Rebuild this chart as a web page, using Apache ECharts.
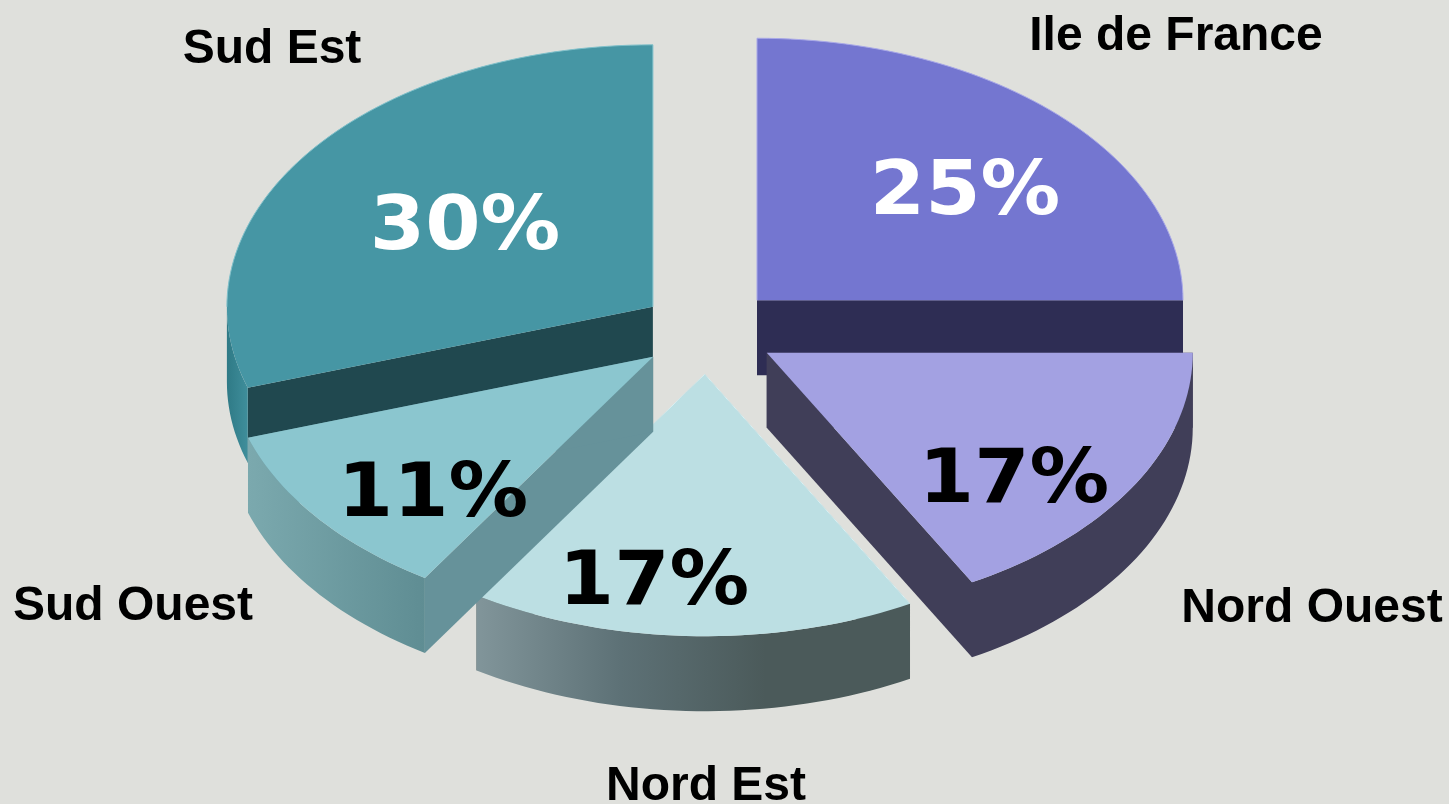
<!DOCTYPE html>
<html>
<head>
<meta charset="utf-8">
<style>
  html, body { margin: 0; padding: 0; background: #dfe0dc; }
  #chart { width: 1449px; height: 804px; }
</style>
<script src="https://cdn.jsdelivr.net/npm/echarts@6/dist/echarts.min.js"></script>
</head>
<body>
<div id="chart"></div>
<script>
// clockwise from 12 o'clock
const regions = ['Ile de France', 'Nord Ouest', 'Nord Est', 'Sud Ouest', 'Sud Est'];
const shares = [25, 17, 17, 11, 30];

// styling, one entry per region
const explode = [0.166, 0.163, 0.165, 0.16, 0.157];
const drawOrder = [0, 3, 2, 4, 1]; // back slices first, z2 step
const topColors = ['#7476d0', '#a3a1e2', '#bcdfe3', '#8bc6cf', '#4696a4'];
const edgeColors = ['#a9a9e8', '#aeaceb', '#d8f0f3', '#97cfd7', '#7fc0ca'];
const litCuts = [[1, 0], [0, 0], [1, 1], [0, 0], [0, 1]]; // cut edges with a light line
const cutColors = ['#2e2d54', '#403e58', '#4b5a5a', '#66929a', '#20484f'];
const rimColors = [
  ['#2e2d54', '#2e2d54'],
  ['#403e58', '#403e58'],
  ['#81959a', '#5d7176', '#4b5a5a', '#4b5a5a'],
  ['#7ba9ae', '#5f8d93'],
  ['#2f7a86', '#3f8e9b']
];
const pctColors = ['#fff', '#000', '#000', '#000', '#fff'];
const pctPos = [[965, 188], [1014, 476], [654, 578], [433, 490], [465, 223]];
const namePos = [[1176, 37], [1312, 609], [706, 787], [133, 607], [272, 50]];

const cx = 707, cy = 331, rx = 426, ry = 262, depth = 75;
const total = shares.reduce((a, b) => a + b, 0);

function rad(d) { return d * Math.PI / 180; }

function renderSlice(params, api) {
  let i = params.dataIndex;
  let before = 0;
  for (let k = 0; k < i; k++) before += shares[k];
  let a0 = -90 + before / total * 360;
  let a1 = a0 + api.value(1) / total * 360;
  let mid = rad((a0 + a1) / 2);
  let ax = cx + Math.cos(mid) * explode[i] * rx;
  let ay = cy + Math.sin(mid) * explode[i] * ry;
  let pt = function(a, dy) {
    return [ax + rx * Math.cos(rad(a)), ay + ry * Math.sin(rad(a)) + (dy || 0)];
  };
  let arc = function(from, to, dy) {
    let out = [];
    let n = Math.max(2, Math.ceil((to - from) / 1.5));
    for (let k = 0; k <= n; k++) out.push(pt(from + (to - from) * k / n, dy));
    return out;
  };
  let base = (drawOrder[i] + 1) * 10;
  let kids = [];
  let edgeLine = function(points) {
    kids.push({
      type: 'polyline',
      z2: base + 3,
      shape: { points: points },
      style: { fill: null, stroke: edgeColors[i], lineWidth: 1 }
    });
  };

  // the two cut faces
  [a0, a1].forEach(function(a) {
    kids.push({
      type: 'polygon',
      z2: base,
      shape: { points: [[ax, ay], pt(a), pt(a, depth), [ax, ay + depth]] },
      style: { fill: cutColors[i] }
    });
  });

  // outer wall, only the part that faces us
  let from = Math.max(a0, 0), to = Math.min(a1, 180);
  if (to > from) {
    let stops = rimColors[i].map(function(c, k, all) {
      return { offset: k / (all.length - 1), color: c };
    });
    kids.push({
      type: 'polygon',
      z2: base + 1,
      shape: { points: arc(from, to, 0).concat(arc(from, to, depth).reverse()) },
      style: { fill: new echarts.graphic.LinearGradient(0, 0, 1, 0, stops) }
    });
  }

  // top
  kids.push({
    type: 'polygon',
    z2: base + 2,
    shape: { points: [[ax, ay]].concat(arc(a0, a1, 0)) },
    style: { fill: topColors[i] }
  });

  // light fringe: far arc and a few cut edges
  if (a0 < 0) edgeLine(arc(a0, Math.min(a1, 0), 0));
  if (a1 > 180) edgeLine(arc(Math.max(a0, 180), a1, 0));
  if (litCuts[i][0]) edgeLine([[ax, ay], pt(a0)]);
  if (litCuts[i][1]) edgeLine([[ax, ay], pt(a1)]);

  kids.push({
    type: 'text',
    z2: 100,
    x: pctPos[i][0],
    y: pctPos[i][1] + 7,
    scaleX: 1.075,
    style: {
      text: api.value(1) + '%',
      fill: pctColors[i],
      font: 'bold 74px "DejaVu Sans"',
      align: 'center', verticalAlign: 'middle'
    }
  });
  kids.push({
    type: 'text',
    z2: 100,
    style: {
      x: namePos[i][0], y: namePos[i][1],
      text: regions[i],
      fill: '#000',
      font: 'bold 48px "Liberation Sans"',
      align: 'center', verticalAlign: 'middle'
    }
  });
  return { type: 'group', children: kids };
}

let chart = echarts.init(document.getElementById('chart'), null, { renderer: 'canvas' });
chart.setOption({
  backgroundColor: '#dfe0dc',
  animation: false,
  series: [{
    type: 'custom',
    coordinateSystem: 'none',
    renderItem: renderSlice,
    silent: true,
    data: shares.map(function(v, i) { return [i, v]; })
  }]
});
</script>
</body>
</html>
